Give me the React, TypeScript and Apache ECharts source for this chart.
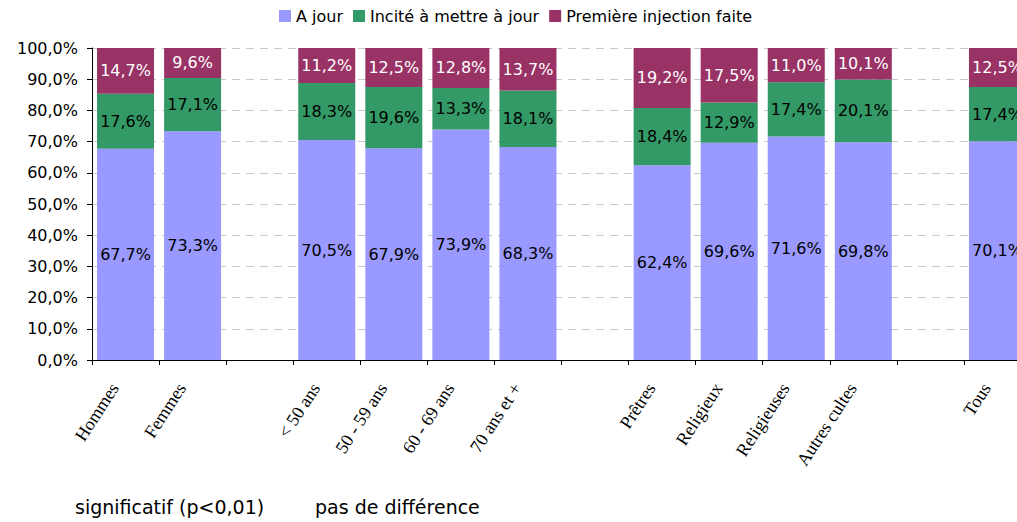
import React, { useEffect, useRef } from "react";
import * as echarts from "echarts";

const categories = ["Hommes", "Femmes", "", "< 50 ans", "50 - 59 ans", "60 - 69 ans", "70 ans et +", "", "Prêtres", "Religieux", "Religieuses", "Autres cultes", "", "Tous"];
const aJour = [67.7, 73.3, null, 70.5, 67.9, 73.9, 68.3, null, 62.4, 69.6, 71.6, 69.8, null, 70.1];
const incite = [17.6, 17.1, null, 18.3, 19.6, 13.3, 18.1, null, 18.4, 12.9, 17.4, 20.1, null, 17.4];
const premiere = [14.7, 9.6, null, 11.2, 12.5, 12.8, 13.7, null, 19.2, 17.5, 11.0, 10.1, null, 12.5];
const seriesNames = ["A jour", "Incité à mettre à jour", "Première injection faite"];
const yTicks = [0, 10, 20, 30, 40, 50, 60, 70, 80, 90, 100];
const footnotes = ["significatif (p<0,01)", "pas de différence"];

const fmt = (v: number) => v.toFixed(1).replace(".", ",") + "%";
const FONT = "DejaVu Sans";

export default function App() {
  const ref = useRef<HTMLDivElement>(null);
  useEffect(() => {
    const chart = echarts.init(ref.current!, null, { renderer: "svg" });
    const colors = ["#9999FF", "#339966", "#993366"];
    const labelColors = ["#000000", "#000000", "#FFFFFF"];
    const data = [aJour, incite, premiere];
    chart.setOption({
      animation: false,
      color: colors,
      legend: {
        top: 3,
        left: "center",
        itemWidth: 12,
        itemHeight: 12,
        itemGap: 10,
        icon: "rect",
        textStyle: { fontFamily: FONT, fontSize: 16, color: "#000" },
        data: seriesNames,
      },
      grid: { left: 92, right: 0, top: 48, bottom: 162, containLabel: false },
      xAxis: {
        type: "category",
        data: categories,
        axisLine: { lineStyle: { color: "#000", width: 1 } },
        axisTick: { show: true, length: 5, lineStyle: { color: "#000" } },
        axisLabel: {
          interval: 0,
          rotate: 57,
          margin: 8,
          padding: [0, 20, 0, 0],
          fontFamily: "Liberation Serif",
          fontSize: 18,
          color: "#000",
        },
      },
      yAxis: {
        type: "value",
        min: yTicks[0],
        max: yTicks[yTicks.length - 1],
        interval: 10,
        axisLine: { show: true, lineStyle: { color: "#000", width: 1 } },
        axisTick: { show: true, length: 5, lineStyle: { color: "#000" } },
        axisLabel: {
          margin: 14,
          fontFamily: FONT,
          fontSize: 16,
          color: "#000",
          formatter: (v: number) => fmt(v),
        },
        splitLine: { show: true, lineStyle: { color: "#c8c8c8", type: [8, 6], width: 1 } },
      },
      series: seriesNames.map((name, i) => ({
        name,
        type: "bar",
        stack: "total",
        barCategoryGap: "15%",
        data: data[i],
        itemStyle: { color: colors[i] },
        label: {
          show: true,
          position: "inside",
          fontFamily: FONT,
          fontSize: 16,
          color: labelColors[i],
          formatter: (p: any) => (p.value == null ? "" : fmt(p.value)),
        },
      })),
      graphic: [
        {
          type: "text",
          left: 75,
          top: 497,
          style: { text: footnotes[0], fontFamily: FONT, fontSize: 19, fill: "#000" },
        },
        {
          type: "text",
          left: 315,
          top: 497,
          style: { text: footnotes[1], fontFamily: FONT, fontSize: 19, fill: "#000" },
        },
      ],
    });
    return () => chart.dispose();
  }, []);
  return (
    <div
      ref={ref}
      style={{ position: "fixed", left: 0, top: 0, width: 1031, height: 522, background: "#fff" }}
    />
  );
}
